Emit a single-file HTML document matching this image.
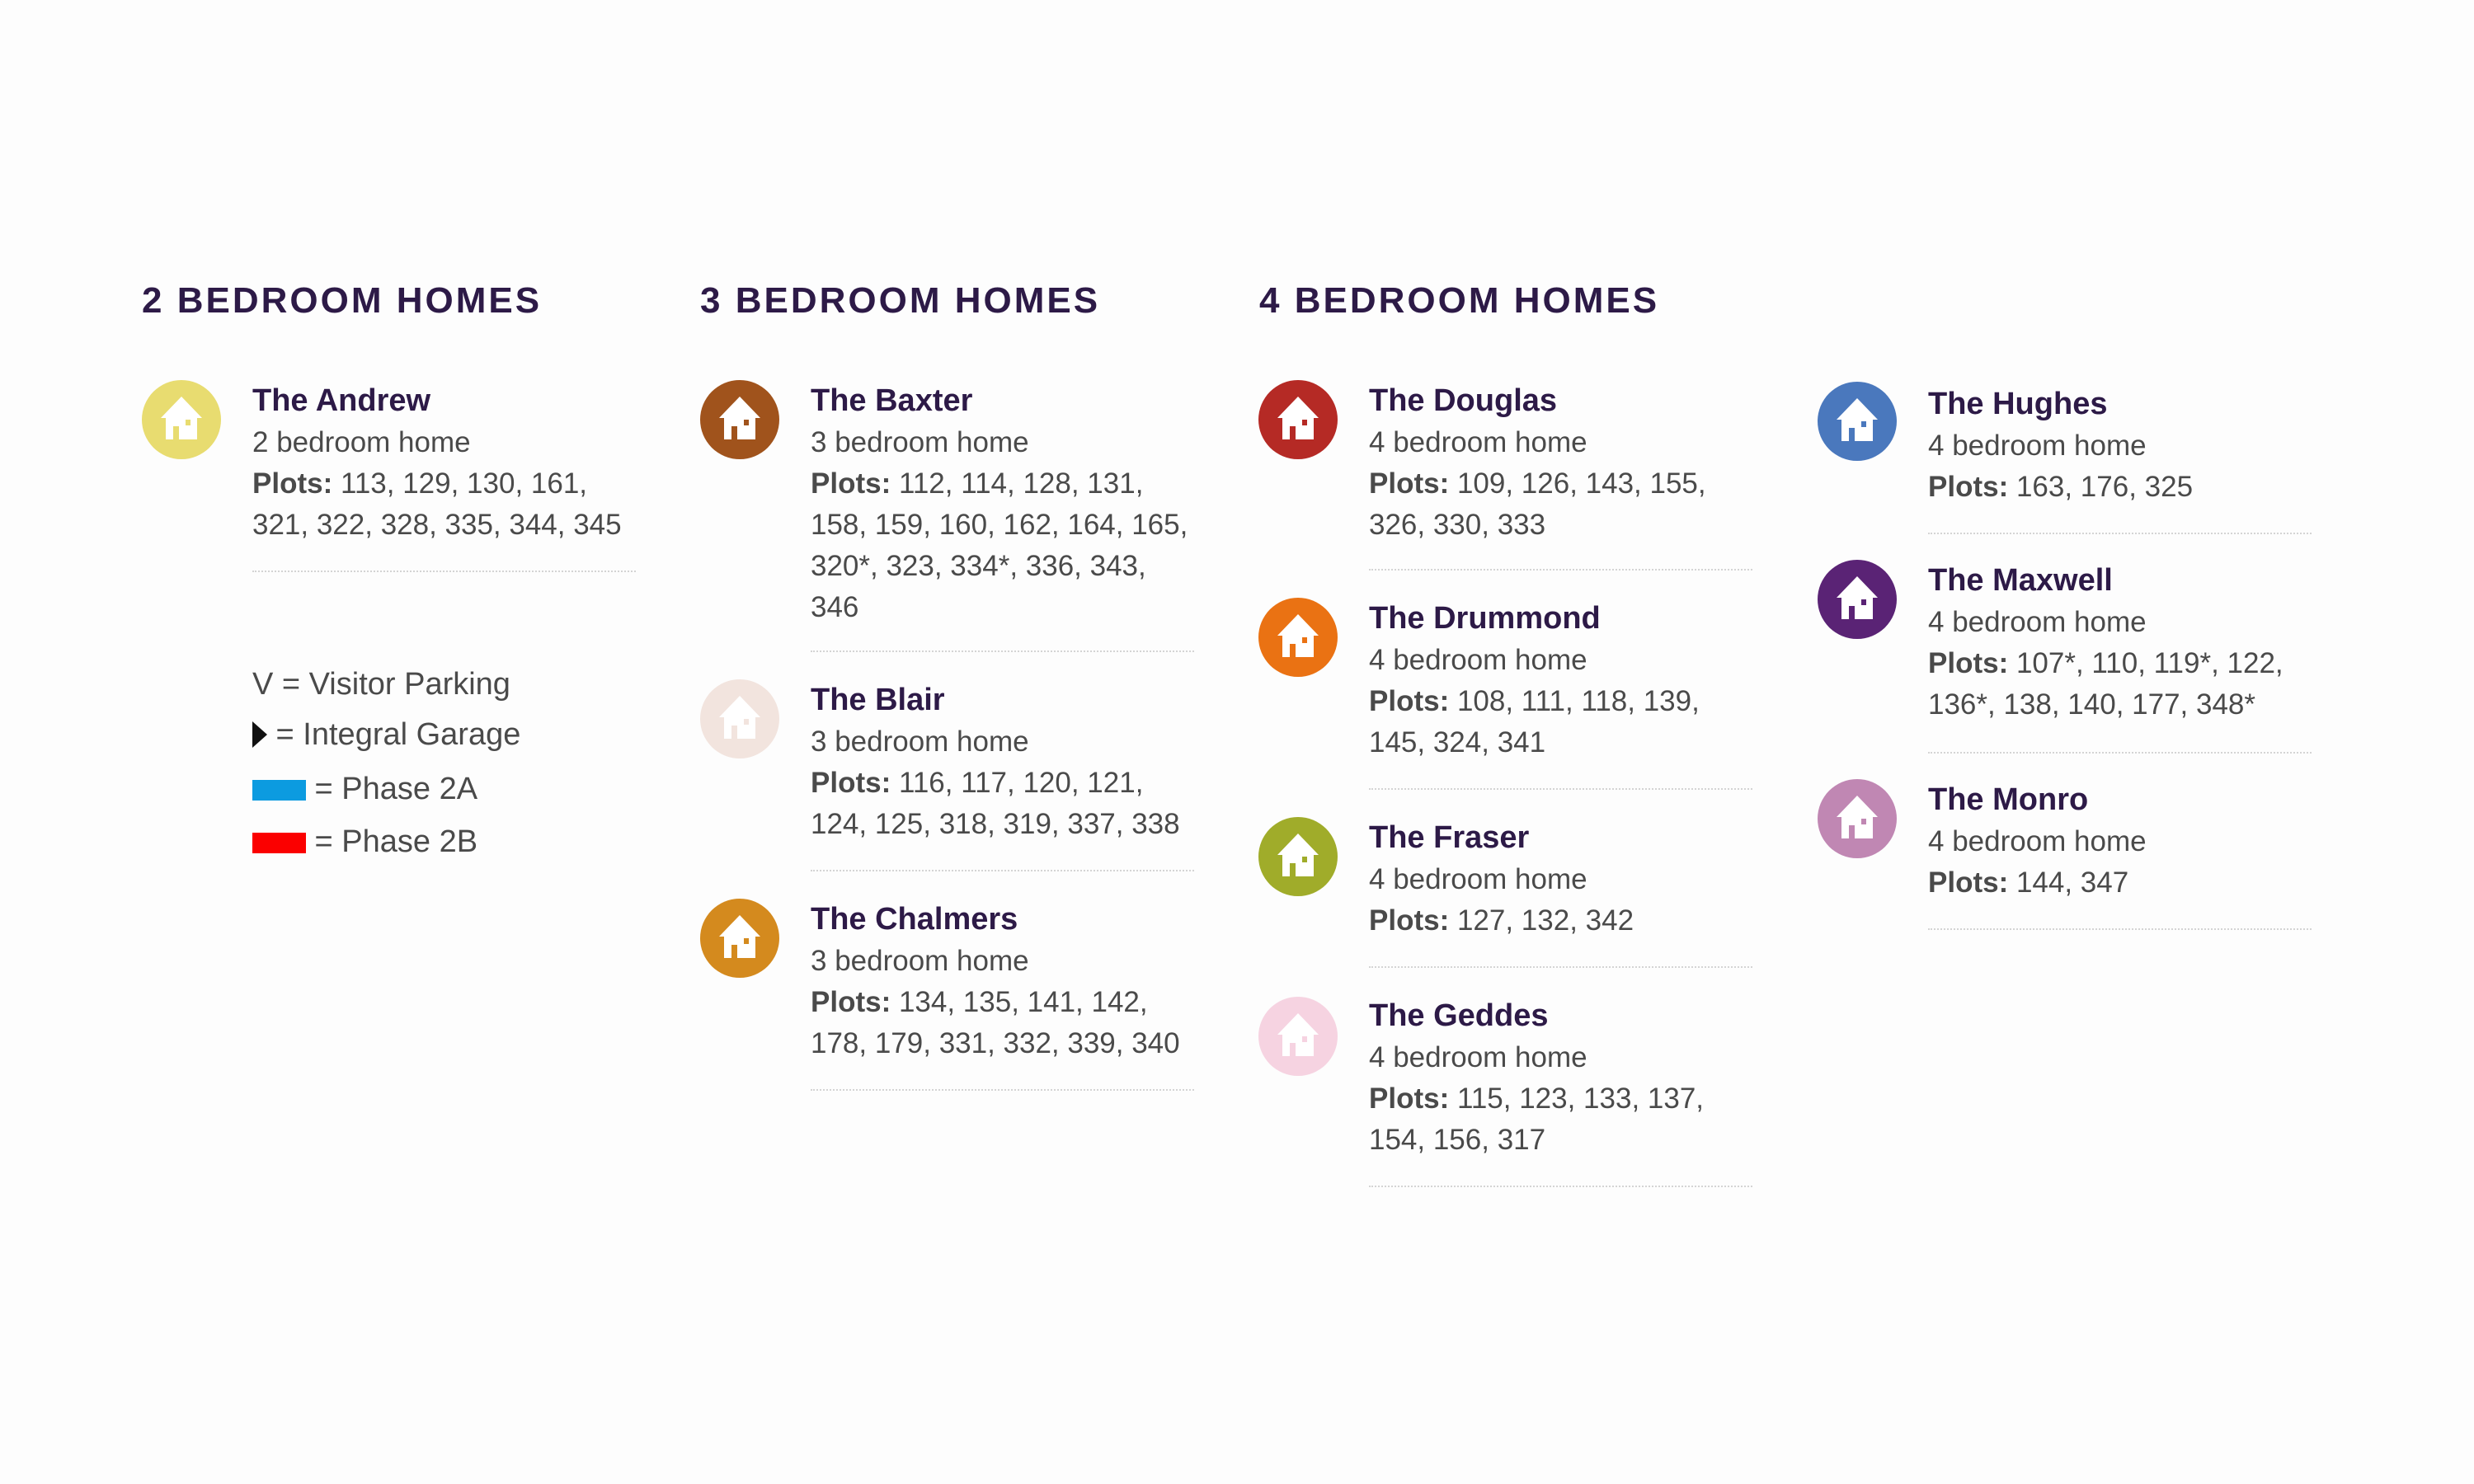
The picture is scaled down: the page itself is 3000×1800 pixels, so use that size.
<!DOCTYPE html>
<html><head><meta charset="utf-8"><style>
body{margin:0;width:3000px;height:1800px;background:#fdfdfd;position:relative;overflow:hidden;font-family:"Liberation Sans",sans-serif}
.h{position:absolute;top:340px;font-size:44px;font-weight:bold;letter-spacing:3px;color:#2d1a47;line-height:50px}
.b{position:absolute;font-size:35px;line-height:50px;color:#4a4a4a;white-space:nowrap}
.b .n{font-size:38px;font-weight:bold;color:#2d1a47}
.b b{color:#4a4a4a}
.i{position:absolute;width:96px;height:96px}
.s{position:absolute;width:465px;border-top:2px dotted #d4d4d4;height:0}
.l{position:absolute;left:306px;font-size:38px;color:#4a4a4a;line-height:50px;white-space:nowrap}
</style></head><body>
<div class="h" style="left:172px">2 BEDROOM HOMES</div>
<div class="h" style="left:849px">3 BEDROOM HOMES</div>
<div class="h" style="left:1527px">4 BEDROOM HOMES</div>

<svg class="i" style="left:172px;top:461px" viewBox="-48 -48 96 96"><circle r="48" fill="#e8dc70"/><polygon points="-25,-2 0,-28 25,-2" fill="#fff"/><rect x="-19" y="-6" width="38" height="30" fill="#fff"/><rect x="-10" y="8" width="7" height="16" fill="#e8dc70"/><rect x="5" y="0" width="6" height="7" fill="#e8dc70"/></svg>
<svg class="i" style="left:849px;top:461px" viewBox="-48 -48 96 96"><circle r="48" fill="#a0531c"/><polygon points="-25,-2 0,-28 25,-2" fill="#fff"/><rect x="-19" y="-6" width="38" height="30" fill="#fff"/><rect x="-10" y="8" width="7" height="16" fill="#a0531c"/><rect x="5" y="0" width="6" height="7" fill="#a0531c"/></svg>
<svg class="i" style="left:849px;top:824px" viewBox="-48 -48 96 96"><circle r="48" fill="#f2e4de"/><polygon points="-25,-2 0,-28 25,-2" fill="#fff"/><rect x="-19" y="-6" width="38" height="30" fill="#fff"/><rect x="-10" y="8" width="7" height="16" fill="#f2e4de"/><rect x="5" y="0" width="6" height="7" fill="#f2e4de"/></svg>
<svg class="i" style="left:849px;top:1090px" viewBox="-48 -48 96 96"><circle r="48" fill="#d48a1e"/><polygon points="-25,-2 0,-28 25,-2" fill="#fff"/><rect x="-19" y="-6" width="38" height="30" fill="#fff"/><rect x="-10" y="8" width="7" height="16" fill="#d48a1e"/><rect x="5" y="0" width="6" height="7" fill="#d48a1e"/></svg>
<svg class="i" style="left:1526px;top:461px" viewBox="-48 -48 96 96"><circle r="48" fill="#b52a25"/><polygon points="-25,-2 0,-28 25,-2" fill="#fff"/><rect x="-19" y="-6" width="38" height="30" fill="#fff"/><rect x="-10" y="8" width="7" height="16" fill="#b52a25"/><rect x="5" y="0" width="6" height="7" fill="#b52a25"/></svg>
<svg class="i" style="left:1526px;top:725px" viewBox="-48 -48 96 96"><circle r="48" fill="#ea7213"/><polygon points="-25,-2 0,-28 25,-2" fill="#fff"/><rect x="-19" y="-6" width="38" height="30" fill="#fff"/><rect x="-10" y="8" width="7" height="16" fill="#ea7213"/><rect x="5" y="0" width="6" height="7" fill="#ea7213"/></svg>
<svg class="i" style="left:1526px;top:991px" viewBox="-48 -48 96 96"><circle r="48" fill="#a0ac2a"/><polygon points="-25,-2 0,-28 25,-2" fill="#fff"/><rect x="-19" y="-6" width="38" height="30" fill="#fff"/><rect x="-10" y="8" width="7" height="16" fill="#a0ac2a"/><rect x="5" y="0" width="6" height="7" fill="#a0ac2a"/></svg>
<svg class="i" style="left:1526px;top:1209px" viewBox="-48 -48 96 96"><circle r="48" fill="#f6d3e1"/><polygon points="-25,-2 0,-28 25,-2" fill="#fff"/><rect x="-19" y="-6" width="38" height="30" fill="#fff"/><rect x="-10" y="8" width="7" height="16" fill="#f6d3e1"/><rect x="5" y="0" width="6" height="7" fill="#f6d3e1"/></svg>
<svg class="i" style="left:2204px;top:463px" viewBox="-48 -48 96 96"><circle r="48" fill="#4a78bd"/><polygon points="-25,-2 0,-28 25,-2" fill="#fff"/><rect x="-19" y="-6" width="38" height="30" fill="#fff"/><rect x="-10" y="8" width="7" height="16" fill="#4a78bd"/><rect x="5" y="0" width="6" height="7" fill="#4a78bd"/></svg>
<svg class="i" style="left:2204px;top:679px" viewBox="-48 -48 96 96"><circle r="48" fill="#5a2375"/><polygon points="-25,-2 0,-28 25,-2" fill="#fff"/><rect x="-19" y="-6" width="38" height="30" fill="#fff"/><rect x="-10" y="8" width="7" height="16" fill="#5a2375"/><rect x="5" y="0" width="6" height="7" fill="#5a2375"/></svg>
<svg class="i" style="left:2204px;top:945px" viewBox="-48 -48 96 96"><circle r="48" fill="#c087b3"/><polygon points="-25,-2 0,-28 25,-2" fill="#fff"/><rect x="-19" y="-6" width="38" height="30" fill="#fff"/><rect x="-10" y="8" width="7" height="16" fill="#c087b3"/><rect x="5" y="0" width="6" height="7" fill="#c087b3"/></svg>

<div class="b" style="left:306px;top:461px"><span class="n">The Andrew</span><br>2 bedroom home<br><b>Plots:</b> 113, 129, 130, 161,<br>321, 322, 328, 335, 344, 345</div>
<div class="s" style="left:306px;top:692px"></div>

<div class="b" style="left:983px;top:461px"><span class="n">The Baxter</span><br>3 bedroom home<br><b>Plots:</b> 112, 114, 128, 131,<br>158, 159, 160, 162, 164, 165,<br>320*, 323, 334*, 336, 343,<br>346</div>
<div class="s" style="left:983px;top:789px"></div>
<div class="b" style="left:983px;top:824px"><span class="n">The Blair</span><br>3 bedroom home<br><b>Plots:</b> 116, 117, 120, 121,<br>124, 125, 318, 319, 337, 338</div>
<div class="s" style="left:983px;top:1055px"></div>
<div class="b" style="left:983px;top:1090px"><span class="n">The Chalmers</span><br>3 bedroom home<br><b>Plots:</b> 134, 135, 141, 142,<br>178, 179, 331, 332, 339, 340</div>
<div class="s" style="left:983px;top:1321px"></div>

<div class="b" style="left:1660px;top:461px"><span class="n">The Douglas</span><br>4 bedroom home<br><b>Plots:</b> 109, 126, 143, 155,<br>326, 330, 333</div>
<div class="s" style="left:1660px;top:690px"></div>
<div class="b" style="left:1660px;top:725px"><span class="n">The Drummond</span><br>4 bedroom home<br><b>Plots:</b> 108, 111, 118, 139,<br>145, 324, 341</div>
<div class="s" style="left:1660px;top:956px"></div>
<div class="b" style="left:1660px;top:991px"><span class="n">The Fraser</span><br>4 bedroom home<br><b>Plots:</b> 127, 132, 342</div>
<div class="s" style="left:1660px;top:1172px"></div>
<div class="b" style="left:1660px;top:1207px"><span class="n">The Geddes</span><br>4 bedroom home<br><b>Plots:</b> 115, 123, 133, 137,<br>154, 156, 317</div>
<div class="s" style="left:1660px;top:1438px"></div>

<div class="b" style="left:2338px;top:465px"><span class="n">The Hughes</span><br>4 bedroom home<br><b>Plots:</b> 163, 176, 325</div>
<div class="s" style="left:2338px;top:646px"></div>
<div class="b" style="left:2338px;top:679px"><span class="n">The Maxwell</span><br>4 bedroom home<br><b>Plots:</b> 107*, 110, 119*, 122,<br>136*, 138, 140, 177, 348*</div>
<div class="s" style="left:2338px;top:912px"></div>
<div class="b" style="left:2338px;top:945px"><span class="n">The Monro</span><br>4 bedroom home<br><b>Plots:</b> 144, 347</div>
<div class="s" style="left:2338px;top:1126px"></div>

<div class="l" style="top:805px">V = Visitor Parking</div>
<div class="l" style="top:866px"><svg width="18" height="32" style="vertical-align:-4px"><polygon points="0,0 18,16 0,32" fill="#111"/></svg> = Integral Garage</div>
<div class="l" style="top:932px"><span style="display:inline-block;width:65px;height:25px;background:#0c9be0;vertical-align:-2px"></span> = Phase 2A</div>
<div class="l" style="top:996px"><span style="display:inline-block;width:65px;height:25px;background:#fb0000;vertical-align:-2px"></span> = Phase 2B</div>
</body></html>
